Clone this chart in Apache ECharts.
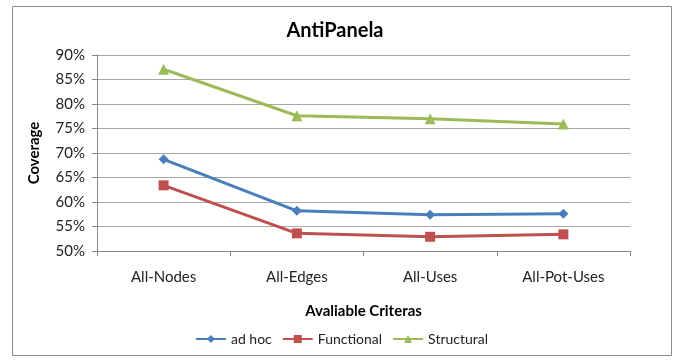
<!DOCTYPE html>
<html>
<head>
<meta charset="utf-8">
<script src="https://cdn.jsdelivr.net/npm/echarts@6/dist/echarts.min.js"></script>
<style>
  html, body { margin: 0; padding: 0; background: #fff; }
  #chart { width: 683px; height: 360px; }
</style>
</head>
<body>
<div id="chart"></div>
<script>
const categories = ['All-Nodes', 'All-Edges', 'All-Uses', 'All-Pot-Uses']
const adHoc = [68.7, 58.2, 57.4, 57.6]
const functional = [63.4, 53.6, 52.9, 53.4]
const structural = [87.1, 77.6, 77.0, 75.9]

const font = 'Lato, "Noto Sans", sans-serif'
const chart = echarts.init(document.getElementById('chart'))

function lineSeries(name, data, color, symbol, size) {
  return {
    name,
    type: 'line',
    data,
    symbol,
    symbolSize: size,
    itemStyle: { color },
    lineStyle: { color, width: 3 },
    emphasis: { disabled: true },
    animation: false,
  }
}

chart.setOption({
  backgroundColor: '#fff',
  title: {
    text: 'AntiPanela',
    left: 330,
    top: 16,
    textAlign: 'center',
    textStyle: { fontFamily: font, fontSize: 20, fontWeight: 'bold', color: '#000' },
  },
  graphic: [
    {
      type: 'rect',
      shape: { x: 12.5, y: 6.5, width: 659, height: 349 },
      style: { fill: 'none', stroke: '#8c8c8c', lineWidth: 1 },
      silent: true,
    },
  ],
  grid: { left: 97, right: 53, top: 55, bottom: 109 },
  legend: {
    bottom: 9,
    left: 'center',
    itemWidth: 30,
    itemHeight: 10,
    itemGap: 10,
    textStyle: { fontFamily: font, fontSize: 14, color: '#222' },
    data: ['ad hoc', 'Functional', 'Structural'],
  },
  xAxis: {
    type: 'category',
    data: categories,
    boundaryGap: true,
    name: 'Avaliable Criteras',
    nameLocation: 'middle',
    nameGap: 53,
    nameTextStyle: { fontFamily: font, fontSize: 15, fontWeight: 'bold', color: '#000' },
    axisLine: { lineStyle: { color: '#868686' } },
    axisTick: { show: true, length: 5, lineStyle: { color: '#868686' } },
    axisLabel: { fontFamily: font, fontSize: 15, color: '#222', margin: 19 },
  },
  yAxis: {
    type: 'value',
    min: 50,
    max: 90,
    interval: 5,
    name: 'Coverage',
    nameLocation: 'middle',
    nameGap: 55,
    nameTextStyle: { fontFamily: font, fontSize: 15, fontWeight: 'bold', color: '#000' },
    axisLine: { show: true, lineStyle: { color: '#868686' } },
    axisTick: { show: true, length: 5, lineStyle: { color: '#868686' } },
    axisLabel: { fontFamily: font, fontSize: 15, color: '#222', margin: 12, formatter: (v) => v + '%' },
    splitLine: { lineStyle: { color: '#a6a6a6' } },
  },
  series: [
    lineSeries('ad hoc', adHoc, '#4a7ebb', 'diamond', 10),
    lineSeries('Functional', functional, '#c0504d', 'rect', 10),
    lineSeries('Structural', structural, '#9bbb59', 'triangle', 11),
  ],
})
</script>
</body>
</html>
